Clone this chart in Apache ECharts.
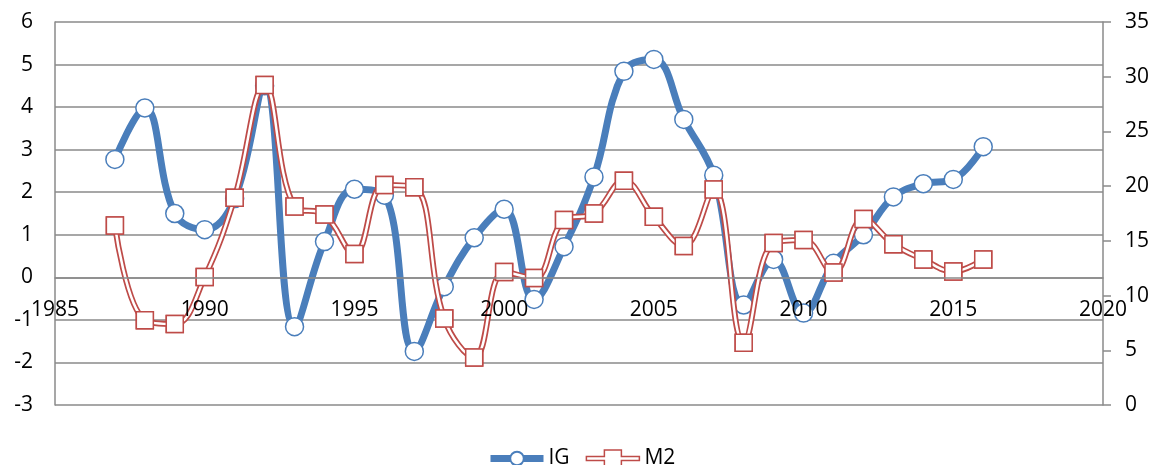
<!DOCTYPE html>
<html>
<head>
<meta charset="utf-8">
<script src="https://cdn.jsdelivr.net/npm/echarts@6/dist/echarts.min.js"></script>
<style>
html,body{margin:0;padding:0;background:#fff;}
#chart{width:1158px;height:465px;}
</style>
</head>
<body>
<div id="chart"></div>
<script>
const years = [1987,1988,1989,1990,1991,1992,1993,1994,1995,1996,1997,1998,1999,2000,2001,2002,2003,2004,2005,2006,2007,2008,2009,2010,2011,2012,2013,2014,2015,2016];
const igValues = [2.77,3.98,1.5,1.12,1.85,4.5,-1.16,0.84,2.07,1.93,-1.74,-0.22,0.93,1.6,-0.52,0.72,2.36,4.84,5.12,3.71,2.4,-0.65,0.42,-0.84,0.33,1.0,1.89,2.2,2.3,3.07];
const m2Values = [16.4,7.75,7.4,11.7,18.95,29.25,18.13,17.4,13.8,20.1,19.9,7.9,4.35,12.15,11.6,16.9,17.5,20.5,17.2,14.53,19.7,5.7,14.8,15.08,12.1,17.0,14.7,13.3,12.2,13.3];
const xTicks = {min:1985, max:2020, step:5};
const leftTicks = {min:-3, max:6, step:1};
const rightTicks = {min:0, max:35, step:5};

const igData = years.map((y,i)=>[y, igValues[i]]);
const m2Data = years.map((y,i)=>[y, m2Values[i]]);

const FONT = 'Open Sans';
const GRAY = '#8a8a8a';
const BLUE = '#4a7ebb';
const RED = '#be4b48';
const SMOOTH = 0.4;

const W = 1158, H = 465;
const GRID = {left:55, right:55, top:22, bottom:60};
const plotH = H - GRID.top - GRID.bottom;
// x axis crosses the left axis at value 0
const xAxisOffset = -plotH * (0 - leftTicks.min) / (leftTicks.max - leftTicks.min);

// legend icon for M2: double line (outlined bar) with a square in the middle
const m2Icon = 'path://M0,6.5 L18,6.5 L18,0 L35,0 L35,6.5 L53,6.5 L53,10.5 L35,10.5 L35,17 L18,17 L18,10.5 L0,10.5 Z';

const chart = echarts.init(document.getElementById('chart'), null, {renderer:'canvas'});
chart.setOption({
  animation:false,
  backgroundColor:'#ffffff',
  textStyle:{fontFamily:FONT},
  grid:Object.assign({containLabel:false}, GRID),
  legend:{
    data:[
      {name:'IG', lineStyle:{width:7}},
      {name:'M2', icon:m2Icon, itemStyle:{color:'#ffffff', borderColor:RED, borderWidth:1.5}}
    ],
    left:482, top:443,
    itemWidth:53, itemHeight:17, itemGap:16,
    textStyle:{fontFamily:FONT, fontSize:21, color:'#000'}
  },
  xAxis:{
    type:'value', min:xTicks.min, max:xTicks.max, interval:xTicks.step,
    position:'bottom', offset:xAxisOffset, z:10,
    axisLine:{show:true, onZero:false, lineStyle:{color:GRAY, width:1.5}},
    axisTick:{show:false},
    splitLine:{show:false},
    axisLabel:{fontFamily:FONT, fontSize:21, color:'#000', margin:22, formatter:v=>String(v)}
  },
  yAxis:[
    {
      type:'value', min:leftTicks.min, max:leftTicks.max, interval:leftTicks.step,
      axisLine:{show:true, onZero:false, lineStyle:{color:GRAY, width:1.5}},
      axisTick:{show:false},
      splitLine:{show:true, lineStyle:{color:GRAY, width:1.5}},
      axisLabel:{fontFamily:FONT, fontSize:21, color:'#000', margin:22}
    },
    {
      type:'value', position:'right', min:rightTicks.min, max:rightTicks.max, interval:rightTicks.step,
      axisLine:{show:true, onZero:false, lineStyle:{color:GRAY, width:1.5}},
      axisTick:{show:true, inside:false, length:8, lineStyle:{color:GRAY, width:1.5}},
      splitLine:{show:false},
      axisLabel:{fontFamily:FONT, fontSize:21, color:'#000', margin:22}
    }
  ],
  series:[
    {
      name:'IG', type:'line', yAxisIndex:0, data:igData, smooth:SMOOTH, z:2,
      color:BLUE,
      lineStyle:{color:BLUE, width:7},
      symbol:'circle', symbolSize:18, showSymbol:true,
      itemStyle:{color:'#ffffff', borderColor:BLUE, borderWidth:1.5}
    },
    {
      name:'M2', type:'line', yAxisIndex:1, data:m2Data, smooth:SMOOTH, z:3,
      color:RED,
      lineStyle:{color:RED, width:6},
      symbol:'rect', symbolSize:17, showSymbol:true,
      itemStyle:{color:'#ffffff', borderColor:RED, borderWidth:1.5}
    },
    {
      name:'M2_inner', type:'line', yAxisIndex:1, data:m2Data, smooth:SMOOTH, z:4,
      lineStyle:{color:'#ffffff', width:2.5},
      symbol:'none', showSymbol:false, silent:true
    },
    {
      name:'M2_marks', type:'line', yAxisIndex:1, data:m2Data, z:5,
      lineStyle:{width:0, opacity:0},
      symbol:'rect', symbolSize:17, showSymbol:true,
      itemStyle:{color:'#ffffff', borderColor:RED, borderWidth:1.5}
    }
  ]
});
</script>
</body>
</html>
